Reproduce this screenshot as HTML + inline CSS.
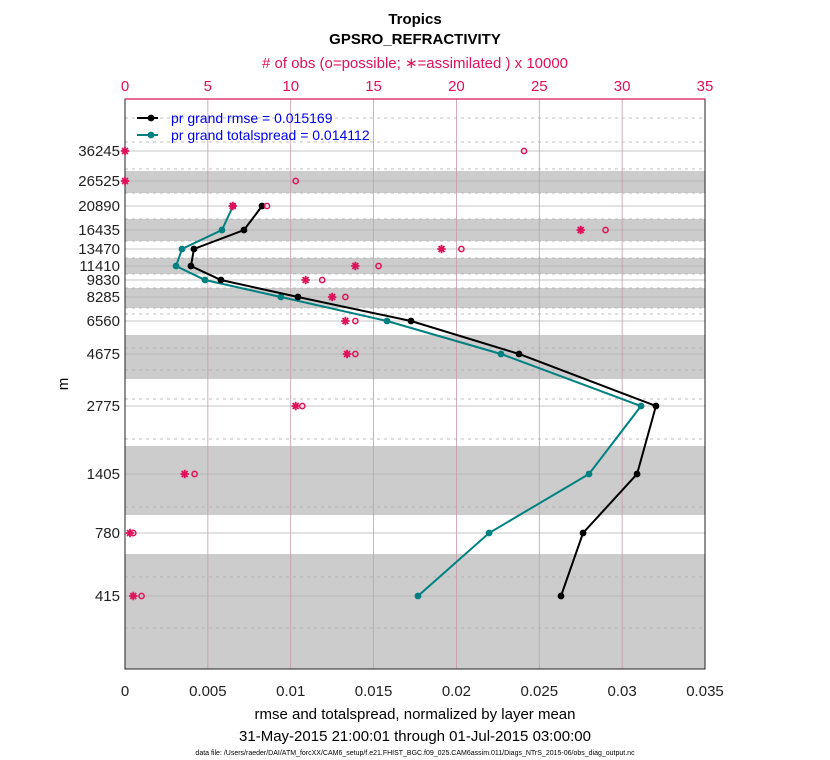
<!DOCTYPE html>
<html><head><meta charset="utf-8">
<style>
html,body{margin:0;padding:0;background:#fff;}
svg{display:block;font-family:"Liberation Sans",Arial,sans-serif;}
</style></head>
<body>
<svg id="chart" width="830" height="760" viewBox="0 0 830 760" xmlns="http://www.w3.org/2000/svg">
<text x="415" y="24" text-anchor="middle" font-size="15" font-weight="bold">Tropics</text>
<text x="415" y="44" text-anchor="middle" font-size="15" font-weight="bold">GPSRO_REFRACTIVITY</text>
<text x="415" y="68" text-anchor="middle" font-size="15" fill="#e0105a"># of obs (o=possible; ∗=assimilated ) x 10000</text>
<text x="415" y="719" text-anchor="middle" font-size="15">rmse and totalspread, normalized by layer mean</text>
<text x="415" y="741" text-anchor="middle" font-size="15">31-May-2015 21:00:01 through 01-Jul-2015 03:00:00</text>
<text x="415" y="755" text-anchor="middle" font-size="7">data file: /Users/raeder/DAI/ATM_forcXX/CAM6_setup/f.e21.FHIST_BGC.f09_025.CAM6assim.011/Diags_NTrS_2015-06/obs_diag_output.nc</text>
<text x="68" y="384" text-anchor="middle" font-size="15" transform="rotate(-90 68 384)">m</text>
<g id="plot"></g>
</svg>
<script>
const levels = [36245, 26525, 20890, 16435, 13470, 11410, 9830, 8285, 6560, 4675, 2775, 1405, 780, 415];
const rmse = [null, null, 0.00827, 0.00718, 0.00416, 0.00398, 0.00579, 0.01044, 0.01726, 0.02378, 0.03204, 0.0309, 0.02764, 0.02631];
const spread = [null, null, 0.00652, 0.00585, 0.00344, 0.00308, 0.00483, 0.00941, 0.01581, 0.02269, 0.03114, 0.028, 0.02197, 0.01768];
const obsPossible = [24.08, 10.3, 8.57, 29.0, 20.3, 15.3, 11.9, 13.3, 13.9, 13.9, 10.7, 4.2, 0.5, 1.0];
const obsAssim = [0, 0, 6.5, 27.5, 19.1, 13.9, 10.9, 12.5, 13.3, 13.4, 10.3, 3.6, 0.3, 0.5];
const xTicks = [0, 0.005, 0.01, 0.015, 0.02, 0.025, 0.03, 0.035];
const xTickLabels = ["0", "0.005", "0.01", "0.015", "0.02", "0.025", "0.03", "0.035"];
const topTicks = [0, 5, 10, 15, 20, 25, 30, 35];
const legendLabels = ["pr grand rmse = 0.015169", "pr grand totalspread = 0.014112"];

const L = 125, R = 705, T = 99, B = 669;
const xScale = v => L + (v / 0.035) * (R - L);
const topScale = v => L + (v / 35) * (R - L);
// vertical axis layout (axis configuration: where each level is drawn)
const axisLevelPx = [151, 181, 206, 230, 249, 266, 280, 297, 321, 354, 406, 474, 533, 596];
const yScale = lv => axisLevelPx[levels.indexOf(lv)];

const NS = "http://www.w3.org/2000/svg";
const plot = document.getElementById("plot");
function mk(tag, attrs, parent) {
  const e = document.createElementNS(NS, tag);
  for (const k in attrs) e.setAttribute(k, attrs[k]);
  (parent || plot).appendChild(e);
  return e;
}
const bands = [[171, 193], [219, 241], [258, 274], [288, 308], [335, 379], [446, 515], [554, 669]];
bands.forEach(b => {
  const r = mk("rect", {x: L, y: b[0], width: R - L, height: b[1] - b[0], fill: "#cccccc"});
  
  
});
[118, 142, 169, 193, 219, 241, 258, 274, 288, 308, 314, 348, 370, 399, 439, 507, 577, 628].forEach(y => {
  const l = mk("line", {x1: L, x2: R, y1: y, y2: y, stroke: "#aaaaaa", "stroke-width": 0.8, "stroke-dasharray": "3,4"});
  
  
});
levels.forEach(lv => {
  const y = yScale(lv);
  const g = mk("line", {x1: L, x2: R, y1: y, y2: y, stroke: "#b0b0b0", "stroke-width": 0.8});
  
  
  const t = mk("text", {x: L - 5, y: y + 5, "text-anchor": "end", "font-size": 15, fill: "#222"});
  t.textContent = lv;
  
  
});
xTicks.forEach((v, i) => {
  const x = xScale(v);
  if (i > 0 && i < xTicks.length - 1) {
    const g = mk("line", {x1: x, x2: x, y1: T, y2: B, stroke: "#c89aaa", "stroke-width": 0.8});
    
    
  }
  const t = mk("text", {x: x, y: 696, "text-anchor": "middle", "font-size": 15, fill: "#222"});
  t.textContent = xTickLabels[i];
  
  
});
topTicks.forEach(v => {
  const x = topScale(v);
  const t = mk("text", {x: x, y: 91, "text-anchor": "middle", "font-size": 15, fill: "#e0105a"});
  t.textContent = v;
  
  
});
const ax = mk("rect", {x: L, y: T, width: R - L, height: B - T, fill: "none", stroke: "#222", "stroke-width": 1});


const topAx = mk("line", {x1: L, x2: R, y1: T, y2: T, stroke: "#e0105a", "stroke-width": 1.2});


function series(vals, color, name) {
  const pts = [];
  vals.forEach((v, i) => { if (v !== null) pts.push([xScale(v), yScale(levels[i])]); });
  const pl = mk("polyline", {points: pts.map(p => p.join(",")).join(" "), fill: "none", stroke: color, "stroke-width": 2});
  
  
  pts.forEach(p => {
    const c = mk("circle", {cx: p[0], cy: p[1], r: 3.4, fill: color});
    
    
  });
}
series(spread, "#008080", "totalspread");
series(rmse, "#000000", "rmse");
obsPossible.forEach((v, i) => {
  const c = mk("circle", {cx: topScale(v), cy: yScale(levels[i]), r: 2.6, fill: "none", stroke: "#e0105a", "stroke-width": 1.5});
  
  
});
obsAssim.forEach((v, i) => {
  const cx = topScale(v), cy = yScale(levels[i]), r = 4.2;
  const d = "M" + (cx - r) + "," + cy + "H" + (cx + r) +
    "M" + cx + "," + (cy - r) + "V" + (cy + r) +
    "M" + (cx - r * 0.7) + "," + (cy - r * 0.7) + "L" + (cx + r * 0.7) + "," + (cy + r * 0.7) +
    "M" + (cx - r * 0.7) + "," + (cy + r * 0.7) + "L" + (cx + r * 0.7) + "," + (cy - r * 0.7);
  const p = mk("path", {d: d, stroke: "#e0105a", "stroke-width": 1.8, fill: "none"});
  
  
});
[["#000000", 118], ["#008080", 135]].forEach((d, i) => {
  const l = mk("line", {x1: 137, x2: 158, y1: d[1], y2: d[1], stroke: d[0], "stroke-width": 2});
  
  
  const c = mk("circle", {cx: 151, cy: d[1], r: 3.4, fill: d[0]});
  
  
  const t = mk("text", {x: 171, y: d[1] + 5, "font-size": 14, fill: "#0000ee"});
  t.textContent = legendLabels[i];
  
  
});
</script>
</body></html>
